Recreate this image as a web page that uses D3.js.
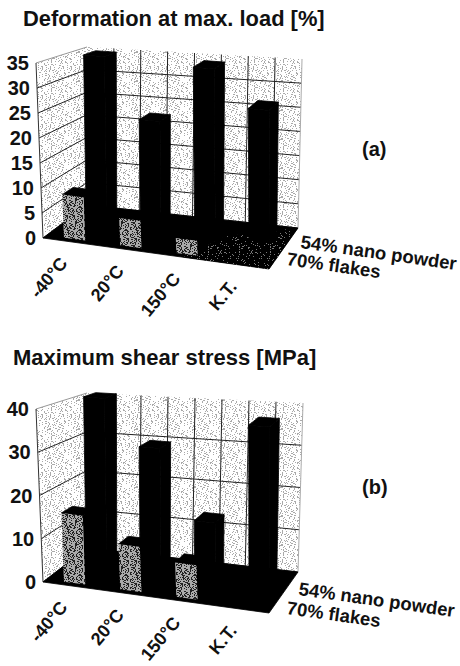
<!DOCTYPE html>
<html>
<head>
<meta charset="utf-8">
<script src="https://cdn.jsdelivr.net/npm/d3@7"></script>
<style>
  body { margin: 0; background: #fff; }
  text { font-family: "Liberation Sans", Arial, sans-serif; font-weight: bold; fill: #111; }
</style>
</head>
<body>
<script>
var categorias = ["-40°C", "20°C", "150°C", "K.T."]
var series = ["70% flakes", "54% nano powder"]

// valores
var deformacionFlakes = [8.7, 5.5, 3, 0]
var deformacionNano = [35, 22.5, 34.5, 27]
var ticksDeformacion = [0, 5, 10, 15, 20, 25, 30, 35]

var cizallaFlakes = [16, 10.5, 8, 0]
var cizallaNano = [41, 30, 13.5, 37.5]
var ticksCizalla = [0, 10, 20, 30, 40]

var width = 460
var height = 666

var svg = d3.select("body").append("svg")
    .attr("width", width)
    .attr("height", height)

// tramas tipo fotocopia, irregulares para que no salgan rayas
var defs = svg.append("defs")

function trama(id, lado, fondo, color, densidad) {
    var p = defs.append("pattern")
        .attr("id", id)
        .attr("patternUnits", "userSpaceOnUse")
        .attr("width", lado)
        .attr("height", lado)
    p.append("rect").attr("width", lado).attr("height", lado).attr("fill", fondo)
    d3.range(lado).forEach(function (y) {
        d3.range(lado).forEach(function (x) {
            var h = (x * 73 + y * 151 + x * y * 37 + (x ^ y) * 19) % 100
            if (h < densidad) {
                p.append("rect").attr("x", x).attr("y", y).attr("width", 1).attr("height", 1).attr("fill", color)
            }
        })
    })
}
trama("pared", 29, "#fff", "#aaa", 20)
trama("gris", 23, "#aaa", "#222", 33)
trama("suelo", 31, "#000", "#777", 9)

var escalaX = d3.scaleBand()
    .domain(categorias)
    .range([0, 1])
    .paddingInner(0.62)
    .paddingOuter(0.31)

var escalaFila = d3.scalePoint()
    .domain(series)
    .range([0.2, 0.72])

var fondoBarra = 0.24

function pintarPanel(panel) {
    var g = svg.append("g")

    var escalaY = d3.scaleLinear()
        .domain([0, panel.maximo])
        .range([0, 1])

    // pasa de coordenadas del cubo (0-1) a pantalla
    function proyectar(u, v, w) {
        var c = panel.esquinas
        var mezcla = function (k) {
            var abajo = (1 - v) * ((1 - u) * c.fi[k] + u * c.fd[k]) + v * ((1 - u) * c.ti[k] + u * c.td[k])
            var arriba = (1 - v) * ((1 - u) * c.fiA[k] + u * c.fdA[k]) + v * ((1 - u) * c.tiA[k] + u * c.tdA[k])
            return (1 - w) * abajo + w * arriba
        }
        return [mezcla(0), mezcla(1)]
    }

    var linea = d3.line()

    function poligono(puntos, fill) {
        return g.append("path")
            .attr("d", linea(puntos) + "Z")
            .attr("fill", fill)
            .attr("stroke", fill == "#000" ? "#000" : "none")
            .attr("stroke-width", 0.8)
    }

    // paredes
    poligono([proyectar(0, 0, 0), proyectar(0, 1, 0), proyectar(0, 1, 1), proyectar(0, 0, 1)], "url(#pared)")
    poligono([proyectar(0, 1, 0), proyectar(1, 1, 0), proyectar(1, 1, 1), proyectar(0, 1, 1)], "url(#pared)")

    // rejilla, la linea superior no se ve en la pared del fondo
    panel.ticks.forEach(function (t) {
        var w = escalaY(t)
        var puntos = t == panel.maximo
            ? [proyectar(0, 0, w), proyectar(0, 1, w)]
            : [proyectar(0, 0, w), proyectar(0, 1, w), proyectar(1, 1, w)]
        g.append("path")
            .attr("d", linea(puntos))
            .attr("fill", "none")
            .attr("stroke", t == panel.maximo ? "#999" : "#222")
            .attr("stroke-width", 1)
    })
    d3.range(1, 8).forEach(function (i) {
        var u = i / 8
        g.append("path")
            .attr("d", linea([proyectar(u, 1, 0), proyectar(u, 1, 1)]))
            .attr("stroke", "#222")
            .attr("stroke-width", 1)
    })
    g.append("path")
        .attr("d", linea([proyectar(0, 0, 0), proyectar(0, 0, 1)]))
        .attr("stroke", "#333")
    g.append("path")
        .attr("d", linea([proyectar(1, 1, 0), proyectar(1, 1, 1)]))
        .attr("stroke", "#aaa")

    // suelo
    poligono([proyectar(0, 0, 0), proyectar(1, 0, 0), proyectar(1, 1, 0), proyectar(0, 1, 0)], "#000")
    if (panel.sueloClaro) {
        poligono([proyectar(0.62, 0, 0), proyectar(1, 0, 0), proyectar(1, 1, 0), proyectar(0.72, 0.62, 0)], "url(#suelo)")
    }

    // barras, primero la fila de atras
    function barra(cat, fila, valor, colorFrente) {
        if (valor <= 0) return
        var u0 = escalaX(cat)
        var u1 = u0 + escalaX.bandwidth()
        var v0 = escalaFila(fila) - fondoBarra / 2
        var v1 = escalaFila(fila) + fondoBarra / 2
        var w = escalaY(valor)
        poligono([proyectar(u1, v0, 0), proyectar(u1, v1, 0), proyectar(u1, v1, w), proyectar(u1, v0, w)], "#000")
        poligono([proyectar(u0, v0, w), proyectar(u1, v0, w), proyectar(u1, v1, w), proyectar(u0, v1, w)], "#000")
        poligono([proyectar(u0, v0, 0), proyectar(u1, v0, 0), proyectar(u1, v0, w), proyectar(u0, v0, w)], colorFrente)
    }
    categorias.forEach(function (c, i) { barra(c, series[1], panel.nano[i], "#000") })
    categorias.forEach(function (c, i) { barra(c, series[0], panel.flakes[i], "url(#gris)") })

    // etiquetas eje Y
    panel.ticks.forEach(function (t) {
        var p = proyectar(0, 0, escalaY(t))
        g.append("text")
            .attr("x", p[0] - 7)
            .attr("y", p[1] + 7)
            .attr("text-anchor", "end")
            .attr("font-size", 20)
            .text(t)
    })

    // etiquetas categorias
    categorias.forEach(function (c) {
        var p = proyectar(escalaX(c) + escalaX.bandwidth() / 2, 0, 0)
        g.append("text")
            .attr("transform", "translate(" + (p[0] - 3) + "," + (p[1] + 22) + ") rotate(-50)")
            .attr("text-anchor", "end")
            .attr("font-size", 18)
            .text(c)
    })

    // etiquetas series
    panel.leyenda.forEach(function (l, i) {
        g.append("text")
            .attr("transform", "translate(" + l[0] + "," + l[1] + ") rotate(8)")
            .attr("font-size", 18.5)
            .text(series[1 - i])
    })

    g.append("text")
        .attr("x", panel.tituloX)
        .attr("y", panel.tituloY)
        .attr("font-size", panel.tituloTam)
        .text(panel.titulo)

    g.append("text")
        .attr("x", 362)
        .attr("y", panel.letraY)
        .attr("font-size", 20)
        .text(panel.letra)
}

pintarPanel({
    titulo: "Deformation at max. load [%]",
    tituloX: 23,
    tituloY: 26,
    tituloTam: 21.9,
    letra: "(a)",
    letraY: 156,
    maximo: 35,
    ticks: ticksDeformacion,
    nano: deformacionNano,
    flakes: deformacionFlakes,
    sueloClaro: true,
    leyenda: [[300, 248], [286, 265]],
    esquinas: {
        fi: [43, 238], fd: [269, 269], ti: [87, 205], td: [298, 228],
        fiA: [36, 63], fdA: [262, 94], tiA: [87, 47], tdA: [302, 59]
    }
})

pintarPanel({
    titulo: "Maximum shear stress [MPa]",
    tituloX: 13,
    tituloY: 365,
    tituloTam: 22,
    letra: "(b)",
    letraY: 494,
    maximo: 40,
    ticks: ticksCizalla,
    nano: cizallaNano,
    flakes: cizallaFlakes,
    sueloClaro: false,
    leyenda: [[298, 595], [286, 614]],
    esquinas: {
        fi: [43, 582], fd: [269, 613], ti: [87, 548], td: [298, 572],
        fiA: [36, 409], fdA: [262, 440], tiA: [87, 393], tdA: [303, 403]
    }
})
</script>
</body>
</html>
